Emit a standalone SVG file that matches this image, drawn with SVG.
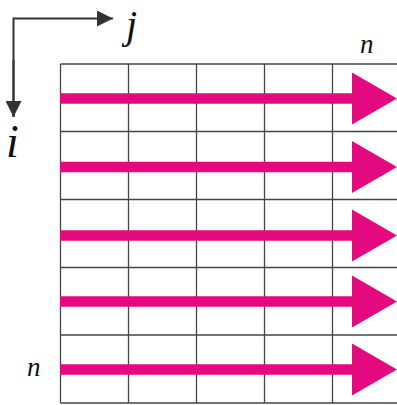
<svg xmlns="http://www.w3.org/2000/svg" width="397" height="405" viewBox="0 0 397 405">
<style>
.grid line{stroke:#444;stroke-width:1.3}
.ax{stroke:#333;stroke-width:2;fill:none}
.lbl{font-family:"Liberation Serif",serif;font-style:italic;fill:#111}
.shaft{stroke:#e5097f;stroke-width:10.5}
.head{fill:#e5097f}
</style>
<defs>
<marker id="ah" viewBox="0 0 16 16" refX="16" refY="8" markerWidth="16" markerHeight="16" markerUnits="userSpaceOnUse" orient="auto">
<path d="M0,0 L16,8 L0,16 Z" fill="#333"/>
</marker>
</defs>
<g id="grid" class="grid">
<line x1="60.5" y1="64" x2="397" y2="64"/>
<line x1="60.5" y1="131.5" x2="397" y2="131.5"/>
<line x1="60.5" y1="199.5" x2="397" y2="199.5"/>
<line x1="60.5" y1="267.5" x2="397" y2="267.5"/>
<line x1="60.5" y1="335" x2="397" y2="335"/>
<line x1="60.5" y1="403" x2="397" y2="403"/>
<line x1="60.5" y1="64" x2="60.5" y2="403"/>
<line x1="128.5" y1="64" x2="128.5" y2="403"/>
<line x1="196.5" y1="64" x2="196.5" y2="403"/>
<line x1="264.5" y1="64" x2="264.5" y2="403"/>
<line x1="332.5" y1="64" x2="332.5" y2="403"/>
</g>
<g id="axes">
<path class="ax" d="M13.5,117 L13.5,18.5 L113,18.5" marker-end="url(#ah)"/>
<path class="ax" d="M13.5,60 L13.5,117" marker-end="url(#ah)"/>
<text class="lbl" x="126" y="38" font-size="40">j</text>
<text class="lbl" x="6" y="157" font-size="46">i</text>
<text class="lbl" x="360" y="53" font-size="27">n</text>
<text class="lbl" x="27" y="376" font-size="27">n</text>
</g>
<g id="connectors">
<g id="row1"><line class="shaft" x1="60" y1="98.5" x2="353" y2="98.5"/><path class="head" d="M352,72.5 L397,98.5 L352,124.5 Z"/></g>
<g id="row2"><line class="shaft" x1="60" y1="167" x2="353" y2="167"/><path class="head" d="M352,141 L397,167 L352,193 Z"/></g>
<g id="row3"><line class="shaft" x1="60" y1="235.5" x2="353" y2="235.5"/><path class="head" d="M352,209.5 L397,235.5 L352,261.5 Z"/></g>
<g id="row4"><line class="shaft" x1="60" y1="301.5" x2="353" y2="301.5"/><path class="head" d="M352,275.5 L397,301.5 L352,327.5 Z"/></g>
<g id="row5"><line class="shaft" x1="60" y1="369.5" x2="353" y2="369.5"/><path class="head" d="M352,343.5 L397,369.5 L352,395.5 Z"/></g>
</g>
</svg>
